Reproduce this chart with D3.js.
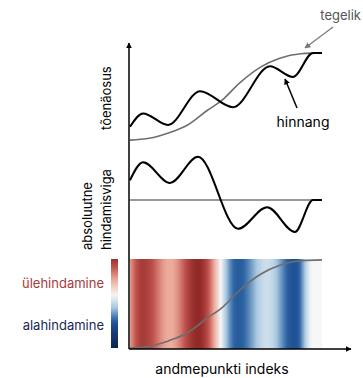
<!DOCTYPE html>
<html><head><meta charset="utf-8">
<script src="https://cdn.jsdelivr.net/npm/d3@7"></script>
<style>body{margin:0;background:#fff}svg{display:block;font-family:Inter,"Open Sans",sans-serif}</style>
</head><body><svg id="c" width="363" height="378"></svg>
<script>
// ---- data ----
const trueIdx  = [0,10,20,30,40,48,57,68,78,89,100];
const trueProb = [0.01,0.03,0.09,0.18,0.34,0.46,0.65,0.83,0.93,0.98,0.99];
const estIdx   = [0,6.8,19.8,36.5,53.6,72.9,84.9,95.3,100];
const estProb  = [0.16,0.31,0.18,0.56,0.38,0.84,0.72,0.99,0.99];
const errIdx   = [0,6.8,20.8,35.4,56.3,71.4,85.9,95.3,100];
const errVal   = [0.44,0.84,0.38,0.96,-0.64,-0.16,-0.71,0,0];
const labels = {top:"tõenäosus", mid:["absoluutne","hindamisviga"], x:"andmepunkti indeks",
  tegelik:"tegelik", hinnang:"hinnang", over:"ülehindamine", under:"alahindamine"};
const colDomain = [-1.3,-0.75,-0.6,-0.3,0,0.4,0.7,1];
const colRange  = ["#08234f","#1a4a8e","#2d63a3","#a8c8e0","#f7f7f7","#eba898","#c0524d","#8a2323"];

// ---- layout ----
const svg = d3.select("#c");
const x = d3.scaleLinear().domain([0,100]).range([130,322]);
const yTop = d3.scaleLinear().domain([0,1]).range([141,52]);
const yErr = d3.scaleLinear().domain([-1,1]).range([245,155]);
const yBot = d3.scaleLinear().domain([0,1]).range([349,259]);
const color = d3.scaleLinear().domain(colDomain).range(colRange).clamp(true);
const zip = (a,b)=>a.map((v,i)=>[v,b[i]]);
const curve = d3.curveMonotoneX;

const defs = svg.append("defs");
function marker(id, fill){
  defs.append("marker").attr("id",id).attr("viewBox","0 0 10 10").attr("refX",9).attr("refY",5)
    .attr("markerWidth",6).attr("markerHeight",6).attr("orient","auto-start-reverse").attr("markerUnits","userSpaceOnUse")
    .append("path").attr("d","M0,0L10,5L0,10z").attr("fill",fill);
}
marker("ab","#000"); marker("ag","#777");

// heatmap (colours sampled from the error curve)
const errLine = d3.line().x(d=>x(d[0])).y(d=>yErr(d[1])).curve(curve);
const errPath = svg.append("path").attr("d",errLine(zip(errIdx,errVal)))
  .attr("fill","none").attr("stroke","#000").attr("stroke-width",2);
const node = errPath.node(), L = node.getTotalLength();
const grad = defs.append("linearGradient").attr("id","hg").attr("gradientUnits","userSpaceOnUse")
  .attr("x1",x(0)).attr("x2",x(100)).attr("y1",0).attr("y2",0);
const samples=[];
for(let i=0;i<=300;i++){samples.push(node.getPointAtLength(L*i/300));}
samples.sort((a,b)=>a.x-b.x).forEach(p=>{
  grad.append("stop").attr("offset",Math.max(0,Math.min(1,(p.x-x(0))/(x(100)-x(0)))))
    .attr("stop-color",color(yErr.invert(p.y)));
});
svg.insert("rect",":first-child").attr("x",x(0)).attr("y",yBot(1)).attr("width",x(100)-x(0))
  .attr("height",yBot(0)-yBot(1)).attr("fill","url(#hg)");

// colorbar
const cg = defs.append("linearGradient").attr("id","cb").attr("x1",0).attr("x2",0).attr("y1",0).attr("y2",1);
d3.range(0,1.0001,0.05).forEach(t=>cg.append("stop").attr("offset",t).attr("stop-color",color(0.9-t*2.2)));
svg.append("rect").attr("x",111).attr("y",259).attr("width",7).attr("height",89).attr("fill","url(#cb)");

// middle baseline
svg.append("line").attr("x1",x(0)).attr("x2",x(100)).attr("y1",yErr(0)).attr("y2",yErr(0))
  .attr("stroke","#777").attr("stroke-width",1.5);
errPath.raise();

// top curves
const topLine = d3.line().x(d=>x(d[0])).y(d=>yTop(d[1])).curve(curve);
svg.append("path").attr("d",topLine(zip(trueIdx,trueProb))).attr("fill","none").attr("stroke","#6e6e6e").attr("stroke-width",1.6);
svg.append("path").attr("d",topLine(zip(estIdx,estProb))).attr("fill","none").attr("stroke","#000").attr("stroke-width",2);

// bottom sigmoid
const botLine = d3.line().x(d=>x(d[0])).y(d=>yBot(d[1])).curve(curve);
svg.append("path").attr("d",botLine(zip(trueIdx,trueProb))).attr("fill","none").attr("stroke","#6e6e6e").attr("stroke-width",1.6);

// axes
svg.append("line").attr("x1",129).attr("y1",349).attr("x2",129).attr("y2",43)
  .attr("stroke","#000").attr("stroke-width",1.5).attr("marker-end","url(#ab)");
svg.append("line").attr("x1",129).attr("y1",349).attr("x2",351).attr("y2",349)
  .attr("stroke","#000").attr("stroke-width",1.5).attr("marker-end","url(#ab)");

// annotation arrows
svg.append("line").attr("x1",333).attr("y1",27).attr("x2",305).attr("y2",48)
  .attr("stroke","#777").attr("stroke-width",1.2).attr("marker-end","url(#ag)");
svg.append("line").attr("x1",297).attr("y1",108).attr("x2",285).attr("y2",79)
  .attr("stroke","#000").attr("stroke-width",1.5).attr("marker-end","url(#ab)");

// texts
svg.append("text").attr("x",361).attr("y",20).attr("text-anchor","end").attr("font-size",13)
  .attr("fill","#555").text(labels.tegelik);
svg.append("text").attr("x",303).attr("y",127).attr("text-anchor","middle").attr("font-size",14)
  .attr("fill","#000").text(labels.hinnang);
svg.append("text").attr("x",222).attr("y",374).attr("text-anchor","middle").attr("font-size",14)
  .attr("fill","#000").text(labels.x);
svg.append("text").attr("transform","translate(111,130) rotate(-90)").attr("font-size",13)
  .attr("fill","#000").text(labels.top);
labels.mid.forEach((t,i)=>svg.append("text").attr("transform",`translate(${92+i*19},250) rotate(-90)`)
  .attr("font-size",13).attr("fill","#000").text(t));
svg.append("text").attr("x",104).attr("y",288).attr("text-anchor","end").attr("font-size",13)
  .attr("fill","#a83a3a").text(labels.over);
svg.append("text").attr("x",104).attr("y",330).attr("text-anchor","end").attr("font-size",13)
  .attr("fill","#172a55").text(labels.under);
</script></body></html>
